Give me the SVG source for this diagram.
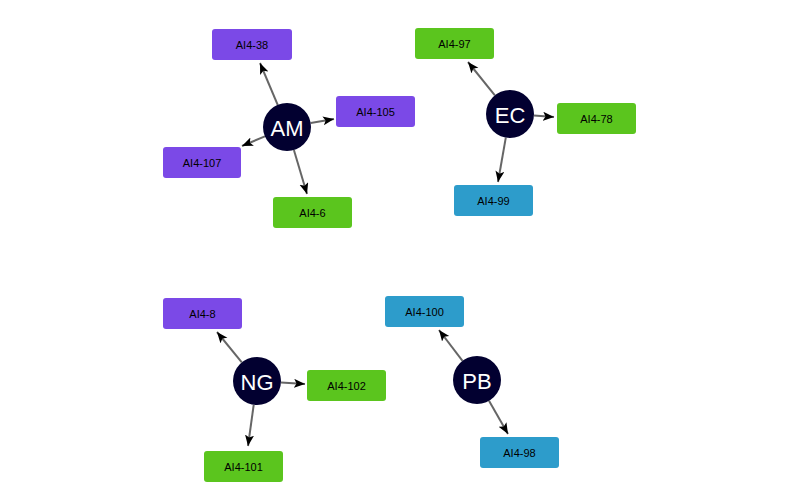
<svg xmlns="http://www.w3.org/2000/svg" width="795" height="501" viewBox="0 0 795 501">
<style>
.box{stroke:none}
.p{fill:#7b49e7}
.g{fill:#5bc51e}
.b{fill:#2d9ccb}
.lbl{font-family:"Liberation Sans",Arial,sans-serif;font-size:11px;fill:#000;text-anchor:middle;dominant-baseline:central}
.hub{fill:#020030}
.hl{font-family:"Liberation Sans",Arial,sans-serif;font-size:22px;fill:#fff;text-anchor:middle;dominant-baseline:central}
.e{stroke:#666;stroke-width:2;fill:none;marker-end:url(#ah)}
</style>
<defs>
<marker id="ah" markerUnits="userSpaceOnUse" markerWidth="12" markerHeight="10" refX="11" refY="4.5" orient="auto">
<path d="M0,0 L11,4.5 L0,9 L2.5,4.5 z" fill="#000"/>
</marker>
</defs>
<rect width="795" height="501" fill="#fff"/>
<g id="edges">
<line class="e" x1="277.7" y1="104.9" x2="260" y2="63"/>
<line class="e" x1="310.7" y1="123" x2="334" y2="119"/>
<line class="e" x1="264.9" y1="136.3" x2="242" y2="146"/>
<line class="e" x1="293.9" y1="150" x2="307" y2="194"/>
<line class="e" x1="494.9" y1="95.3" x2="468" y2="62"/>
<line class="e" x1="534" y1="115.6" x2="554" y2="117"/>
<line class="e" x1="505.8" y1="137.6" x2="498" y2="182"/>
<line class="e" x1="241.8" y1="362.4" x2="217" y2="332"/>
<line class="e" x1="281" y1="382.5" x2="305" y2="384"/>
<line class="e" x1="253.7" y1="404.8" x2="248" y2="446"/>
<line class="e" x1="462.5" y1="360.9" x2="439" y2="330"/>
<line class="e" x1="489" y1="400.8" x2="508" y2="434"/>
</g>
<g id="AM"><circle class="hub" cx="287" cy="127" r="24"/><text class="hl" x="287" y="128">AM</text></g>
<g id="EC"><circle class="hub" cx="510" cy="114" r="24"/><text class="hl" x="510" y="115">EC</text></g>
<g id="NG"><circle class="hub" cx="257" cy="381" r="24"/><text class="hl" x="257" y="382">NG</text></g>
<g id="PB"><circle class="hub" cx="477" cy="380" r="24"/><text class="hl" x="477" y="381">PB</text></g>
<g id="AI4-38"><rect class="box p" x="212" y="29" width="80" height="31" rx="3"/><text class="lbl" x="252" y="44.5">AI4-38</text></g>
<g id="AI4-105"><rect class="box p" x="336" y="96" width="79" height="31" rx="3"/><text class="lbl" x="375.5" y="111.5">AI4-105</text></g>
<g id="AI4-107"><rect class="box p" x="163" y="147" width="78" height="31" rx="3"/><text class="lbl" x="202" y="162.5">AI4-107</text></g>
<g id="AI4-6"><rect class="box g" x="273" y="197" width="79" height="31" rx="3"/><text class="lbl" x="312.5" y="212.5">AI4-6</text></g>
<g id="AI4-97"><rect class="box g" x="415" y="28" width="79" height="31" rx="3"/><text class="lbl" x="454.5" y="43.5">AI4-97</text></g>
<g id="AI4-78"><rect class="box g" x="557" y="103" width="79" height="31" rx="3"/><text class="lbl" x="596.5" y="118.5">AI4-78</text></g>
<g id="AI4-99"><rect class="box b" x="454" y="185" width="79" height="31" rx="3"/><text class="lbl" x="493.5" y="200.5">AI4-99</text></g>
<g id="AI4-8"><rect class="box p" x="163" y="298" width="79" height="31" rx="3"/><text class="lbl" x="202.5" y="313.5">AI4-8</text></g>
<g id="AI4-102"><rect class="box g" x="307" y="370" width="79" height="31" rx="3"/><text class="lbl" x="346.5" y="385.5">AI4-102</text></g>
<g id="AI4-101"><rect class="box g" x="204" y="451" width="79" height="31" rx="3"/><text class="lbl" x="243.5" y="466.5">AI4-101</text></g>
<g id="AI4-100"><rect class="box b" x="385" y="296" width="79" height="31" rx="3"/><text class="lbl" x="424.5" y="311.5">AI4-100</text></g>
<g id="AI4-98"><rect class="box b" x="480" y="437" width="79" height="31" rx="3"/><text class="lbl" x="519.5" y="452.5">AI4-98</text></g>
</svg>
